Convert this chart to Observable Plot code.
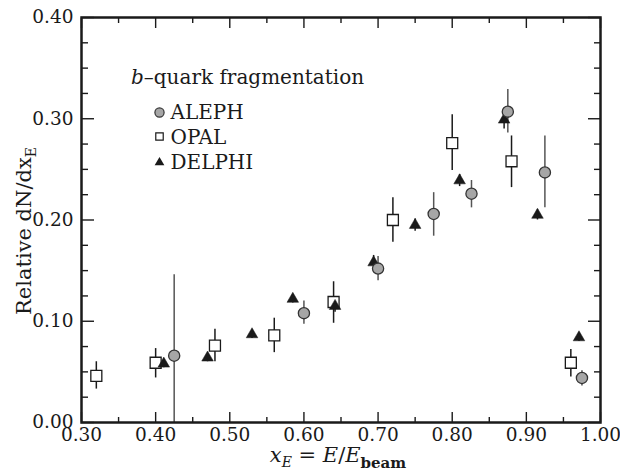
<!DOCTYPE html>
<html><head><meta charset="utf-8">
<script src="https://cdn.jsdelivr.net/npm/d3@7"></script>
<script src="https://cdn.jsdelivr.net/npm/@observablehq/plot@0.6"></script>
<style>body{margin:0;background:#fff}</style>
</head><body><div id="chart"></div>
<script>
// ALEPH (grey circles)
const alephX  = [0.425, 0.600, 0.700, 0.775, 0.826, 0.875, 0.925, 0.975];
const alephY  = [0.066, 0.108, 0.152, 0.206, 0.226, 0.307, 0.247, 0.044];
const alephLo = [0.000, 0.097, 0.140, 0.184, 0.212, 0.286, 0.212, 0.036];
const alephHi = [0.146, 0.120, 0.164, 0.227, 0.239, 0.329, 0.283, 0.051];
// OPAL (open squares)
const opalX  = [0.32, 0.40, 0.48, 0.56, 0.64, 0.72, 0.80, 0.88, 0.96];
const opalY  = [0.046, 0.059, 0.076, 0.086, 0.119, 0.200, 0.276, 0.258, 0.059];
const opalLo = [0.033, 0.044, 0.060, 0.069, 0.098, 0.178, 0.249, 0.232, 0.045];
const opalHi = [0.060, 0.073, 0.092, 0.103, 0.139, 0.222, 0.304, 0.283, 0.072];
// DELPHI (black triangles)
const delphiX   = [0.411, 0.470, 0.530, 0.585, 0.642, 0.694, 0.750, 0.810, 0.870, 0.915, 0.971];
const delphiY   = [0.058, 0.064, 0.087, 0.122, 0.115, 0.158, 0.195, 0.239, 0.299, 0.205, 0.084];
const delphiErr = [0.004, 0.004, 0.004, 0.004, 0.006, 0.007, 0.006, 0.006, 0.009, 0.005, 0.004];
// ticks
const xMajor = [0.30, 0.40, 0.50, 0.60, 0.70, 0.80, 0.90, 1.00];
const xMinor = [0.35, 0.45, 0.55, 0.65, 0.75, 0.85, 0.95];
const yMajor = [0.00, 0.10, 0.20, 0.30, 0.40];
const yMinor = [0.025, 0.05, 0.075, 0.125, 0.15, 0.175, 0.225, 0.25, 0.275, 0.325, 0.35, 0.375];
const legendNames = ["ALEPH", "OPAL", "DELPHI"];

const aleph = alephX.map((x, i) => ({x, y: alephY[i], lo: alephLo[i], hi: alephHi[i]}));
const opal = opalX.map((x, i) => ({x, y: opalY[i], lo: opalLo[i], hi: opalHi[i]}));
const delphi = delphiX.map((x, i) => ({x, y: delphiY[i], lo: delphiY[i] - delphiErr[i], hi: delphiY[i] + delphiErr[i]}));

const FONT = "'DejaVu Serif', 'Liberation Serif', serif";
const fmt = d3.format(".2f");
const ink = "#1a1a1a";

const plot = Plot.plot({
  width: 620, height: 476,
  marginLeft: 81, marginRight: 20, marginTop: 17, marginBottom: 54,
  style: {fontFamily: FONT, background: "white", color: ink},
  x: {domain: [0.3, 1.0]},
  y: {domain: [0, 0.4]},
  marks: [
    // tick labels
    Plot.axisX(xMajor, {anchor: "bottom", tickSize: 0, tickPadding: 5, tickFormat: fmt, fontSize: 18.5, label: null}),
    Plot.axisY(yMajor, {anchor: "left", tickSize: 0, tickPadding: 8, tickFormat: fmt, fontSize: 18.5, label: null}),
    // inward ticks
    Plot.axisX(xMajor, {anchor: "bottom", tickSize: -10, fill: "none", label: null, strokeWidth: 1.4, stroke: ink}),
    Plot.axisX(xMinor, {anchor: "bottom", tickSize: -5, fill: "none", label: null, strokeWidth: 1.4, stroke: ink}),
    Plot.axisX(xMajor, {anchor: "top", tickSize: -10, fill: "none", label: null, strokeWidth: 1.4, stroke: ink}),
    Plot.axisX(xMinor, {anchor: "top", tickSize: -5, fill: "none", label: null, strokeWidth: 1.4, stroke: ink}),
    Plot.axisY(yMajor, {anchor: "left", tickSize: -13, fill: "none", label: null, strokeWidth: 1.4, stroke: ink}),
    Plot.axisY(yMinor, {anchor: "left", tickSize: -7, fill: "none", label: null, strokeWidth: 1.4, stroke: ink}),
    Plot.axisY(yMajor, {anchor: "right", tickSize: -13, fill: "none", label: null, strokeWidth: 1.4, stroke: ink}),
    Plot.axisY(yMinor, {anchor: "right", tickSize: -7, fill: "none", label: null, strokeWidth: 1.4, stroke: ink}),
    // error bars
    Plot.ruleX(opal, {x: "x", y1: "lo", y2: "hi", stroke: ink, strokeWidth: 1.5}),
    Plot.ruleX(delphi, {x: "x", y1: "lo", y2: "hi", stroke: ink, strokeWidth: 1.5}),
    Plot.ruleX(aleph, {x: "x", y1: "lo", y2: "hi", stroke: "#555", strokeWidth: 1.5}),
    // markers
    Plot.dot(opal, {x: "x", y: "y", symbol: "square", r: 6.2, fill: "white", stroke: ink, strokeWidth: 1.3}),
    Plot.dot(delphi, {x: "x", y: "y", symbol: "triangle", r: 4.3, fill: ink, stroke: ink, strokeWidth: 0.5}),
    Plot.dot(aleph, {x: "x", y: "y", symbol: "circle", r: 5.6, fill: "#a6a6a6", stroke: "#333", strokeWidth: 1.3}),
    // legend symbols
    Plot.dot([0], {frameAnchor: "top-left", dx: 78, dy: 95, symbol: "circle", r: 4.6, fill: "#a6a6a6", stroke: "#333", strokeWidth: 1.2}),
    Plot.dot([0], {frameAnchor: "top-left", dx: 78, dy: 119, symbol: "square", r: 4.2, fill: "white", stroke: ink, strokeWidth: 1.2}),
    Plot.dot([0], {frameAnchor: "top-left", dx: 78, dy: 145, symbol: "triangle", r: 3.6, fill: ink}),
    // legend labels
    Plot.text([legendNames[0]], {text: d => d, frameAnchor: "top-left", dx: 89, dy: 101, fontSize: 20, textAnchor: "start", lineAnchor: "bottom", fill: ink}),
    Plot.text([legendNames[1]], {text: d => d, frameAnchor: "top-left", dx: 89, dy: 126, fontSize: 20, textAnchor: "start", lineAnchor: "bottom", fill: ink}),
    Plot.text([legendNames[2]], {text: d => d, frameAnchor: "top-left", dx: 89, dy: 151, fontSize: 20, textAnchor: "start", lineAnchor: "bottom", fill: ink}),
    Plot.frame({stroke: ink, strokeWidth: 2.5})
  ]
});

const svg = d3.select(plot);
// legend title with italic b
const t = svg.append("text")
  .attr("x", 131).attr("y", 84)
  .attr("text-anchor", "start")
  .style("font-family", FONT).style("font-size", "20px").attr("fill", ink);
t.append("tspan").style("font-style", "italic").text("b");
t.append("tspan").text("–quark fragmentation");

// y axis title
const yt = svg.append("text")
  .attr("transform", "translate(31,231) rotate(-90)")
  .attr("text-anchor", "middle")
  .style("font-family", FONT).style("font-size", "21px").attr("fill", ink);
yt.append("tspan").text("Relative dN/dx");
yt.append("tspan").style("font-size", "14px").attr("dy", 5).text("E");

// x axis title
const xt = svg.append("text")
  .attr("x", 338).attr("y", 462)
  .attr("text-anchor", "middle")
  .style("font-family", FONT).style("font-size", "21px").attr("fill", ink);
xt.append("tspan").style("font-style", "italic").text("x");
xt.append("tspan").style("font-style", "italic").style("font-size", "14px").attr("dy", 5).text("E");
xt.append("tspan").attr("dy", -5).text(" = ");
xt.append("tspan").style("font-style", "italic").text("E");
xt.append("tspan").text("/");
xt.append("tspan").style("font-style", "italic").text("E");
xt.append("tspan").style("font-size", "15px").style("font-weight", "bold").attr("dy", 6).text("beam");

document.getElementById("chart").appendChild(plot);
</script>
</body></html>
